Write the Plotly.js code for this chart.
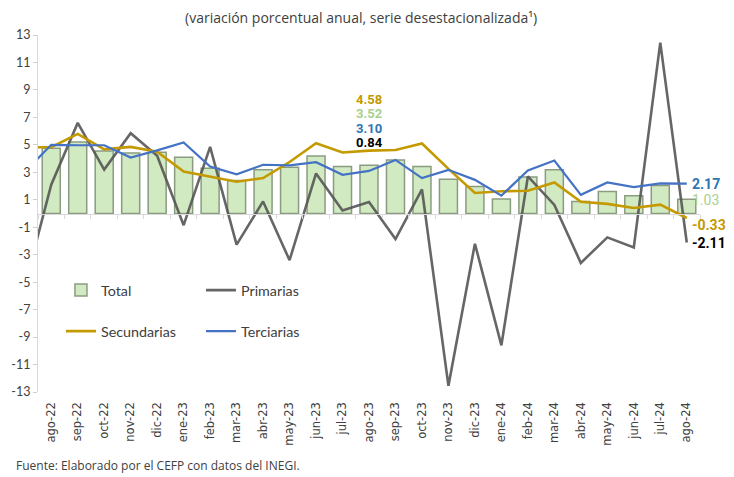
<!DOCTYPE html>
<html>
<head>
<meta charset="utf-8">
<script src="https://cdn.plot.ly/plotly-3.0.1.min.js"></script>
<style>html,body{margin:0;padding:0;background:#fff;}#chart{width:734px;height:477px;}</style>
</head>
<body>
<div id="chart"></div>
<script>
// Categories: "jul-22" is the month before the visible window; only the lines enter from it.
const categories = ['jul-22','ago-22','sep-22','oct-22','nov-22','dic-22','ene-23','feb-23','mar-23','abr-23','may-23','jun-23','jul-23','ago-23','sep-23','oct-23','nov-23','dic-23','ene-24','feb-24','mar-24','abr-24','may-24','jun-24','jul-24','ago-24'];
const total =       [null, 4.75, 5.2, 4.55, 4.4, 4.46, 4.1, 3.3, 2.4, 3.18, 3.37, 4.18, 3.42, 3.52, 3.9, 3.42, 2.5, 1.97, 1.05, 2.65, 3.18, 0.88, 1.6, 1.29, 2.04, 1.03];
const primarias =   [-5.3, 2.1, 6.6, 3.2, 5.85, 4.2, -0.85, 4.85, -2.27, 0.88, -3.4, 2.92, 0.22, 0.84, -1.86, 1.75, -12.55, -2.2, -9.6, 2.7, 0.62, -3.6, -1.74, -2.47, 12.44, -2.11];
const secundarias = [4.83, 4.83, 5.8, 4.67, 4.85, 4.5, 3.06, 2.68, 2.31, 2.58, 3.75, 5.12, 4.44, 4.58, 4.62, 5.1, 3.25, 1.49, 1.62, 1.66, 2.26, 0.86, 0.7, 0.4, 0.64, -0.33];
const terciarias =  [3.03, 5.0, 4.97, 4.97, 4.08, 4.6, 5.18, 3.42, 2.85, 3.55, 3.5, 3.74, 2.82, 3.10, 3.9, 2.58, 3.18, 2.45, 1.3, 3.13, 3.86, 1.36, 2.26, 1.92, 2.2, 2.17];
const yTickVals = [13, 11, 9, 7, 5, 3, 1, -1, -3, -5, -7, -9, -11, -13];
const yTickText = ['13','11','9','7','5','3','1','-1','-3','-5','-7','-9','-11','-13'];

const FONT = 'Lato, "Open Sans", sans-serif';
const WIDEFONT = '"Open Sans", Lato, sans-serif';
const NUMFONT = 'Roboto, "Liberation Sans", sans-serif';
const cGold = '#c49a00', cBlue = '#4472c4', cGray = '#555555', cGreen = '#a9d18e';

const traces = [
  {type:'bar', name:'Total', x:categories, y:total,
   marker:{color:'#d1eac2', line:{color:'#8a9c80', width:1.5}}, legend:'legend'},
  {type:'scatter', mode:'lines', name:'Primarias', x:categories, y:primarias,
   line:{color:cGray, width:2.6}, opacity:0.9, legend:'legend'},
  {type:'scatter', mode:'lines', name:'Secundarias', x:categories, y:secundarias,
   line:{color:cGold, width:2.6}, legend:'legend2'},
  {type:'scatter', mode:'lines', name:'Terciarias', x:categories, y:terciarias,
   line:{color:cBlue, width:2.2}, legend:'legend2'}
];

function lab(text, x, y, color, xanchor, bold, size) {
  return {text: bold ? '<b>'+text+'</b>' : text, x:x, y:y, xref:'x', yref:'y', showarrow:false,
    xanchor:xanchor, yanchor:'middle', borderpad:0, font:{family:NUMFONT, size:size, color:color}};
}

const layout = {
  width:734, height:477,
  margin:{l:38, r:33.5, t:35, b:84.5},
  paper_bgcolor:'#fff', plot_bgcolor:'#fff',
  font:{family:FONT, color:'#404040'},
  title:{text:'(variación porcentual anual, serie desestacionalizada¹)', font:{family:WIDEFONT, size:14, color:'#404040'},
         x:0.492, xanchor:'center', y:0.962, yanchor:'middle', yref:'container'},
  bargap:0.32,
  showlegend:true,
  xaxis:{type:'category', categoryorder:'array', categoryarray:categories, range:[0.5, 25.5],
    anchor:'free', position:0.5, showline:true, linecolor:'#d9d9d9', linewidth:1,
    ticks:'outside', tickson:'boundaries', ticklen:4, tickcolor:'#d9d9d9',
    tickangle:-90, tickfont:{family:'"DejaVu Sans", sans-serif', size:11.5, color:'#404040'}, ticklabelstandoff:183,
    showgrid:false, zeroline:false, automargin:false, fixedrange:true},
  yaxis:{range:[-13,13], tickvals:yTickVals, ticktext:yTickText, showline:true, linecolor:'#d9d9d9',
    ticks:'outside', ticklen:4, tickcolor:'#d0d0d0', tickfont:{family:FONT, size:12.5, color:'#404040'},
    showgrid:false, zeroline:false, automargin:false, fixedrange:true},
  legend:{orientation:'h', x:0.0347, xanchor:'left', y:0.2848, yanchor:'middle', bgcolor:'rgba(0,0,0,0)',
    entrywidth:95, entrywidthmode:'pixels', font:{family:FONT, size:14.3, color:'#404040'}, traceorder:'normal'},
  legend2:{orientation:'h', x:0.0347, xanchor:'left', y:0.170, yanchor:'middle', bgcolor:'rgba(0,0,0,0)',
    entrywidth:95, entrywidthmode:'pixels', font:{family:FONT, size:14.3, color:'#404040'}, traceorder:'normal'},
  annotations:[
    lab('4.58','ago-23', 8.32, cGold, 'center', true, 13),
    lab('3.52','ago-23', 7.27, cGreen, 'center', true, 13),
    lab('3.10','ago-23', 6.22, '#2e75b6', 'center', true, 13),
    lab('0.84','ago-23', 5.17, '#000000', 'center', true, 13),
    Object.assign(lab('2.17','ago-24', 2.17, '#2e75b6', 'left', true, 14), {xshift:4}),
    Object.assign(lab('1.03','ago-24', 1.0, cGreen, 'left', false, 14), {xshift:4}),
    Object.assign(lab('-0.33','ago-24', -0.82, cGold, 'left', true, 14), {xshift:4}),
    Object.assign(lab('-2.11','ago-24', -2.12, '#000000', 'left', true, 14), {xshift:4}),
    {text:'Fuente: Elaborado por el CEFP con datos del INEGI.', xref:'paper', yref:'paper',
     x:-0.036, y:-0.2056, xanchor:'left', yanchor:'middle', showarrow:false,
     font:{family:WIDEFONT, size:12, color:'#404040'}}
  ]
};

Plotly.newPlot('chart', traces, layout, {staticPlot:true, displayModeBar:false});
</script>
</body>
</html>
